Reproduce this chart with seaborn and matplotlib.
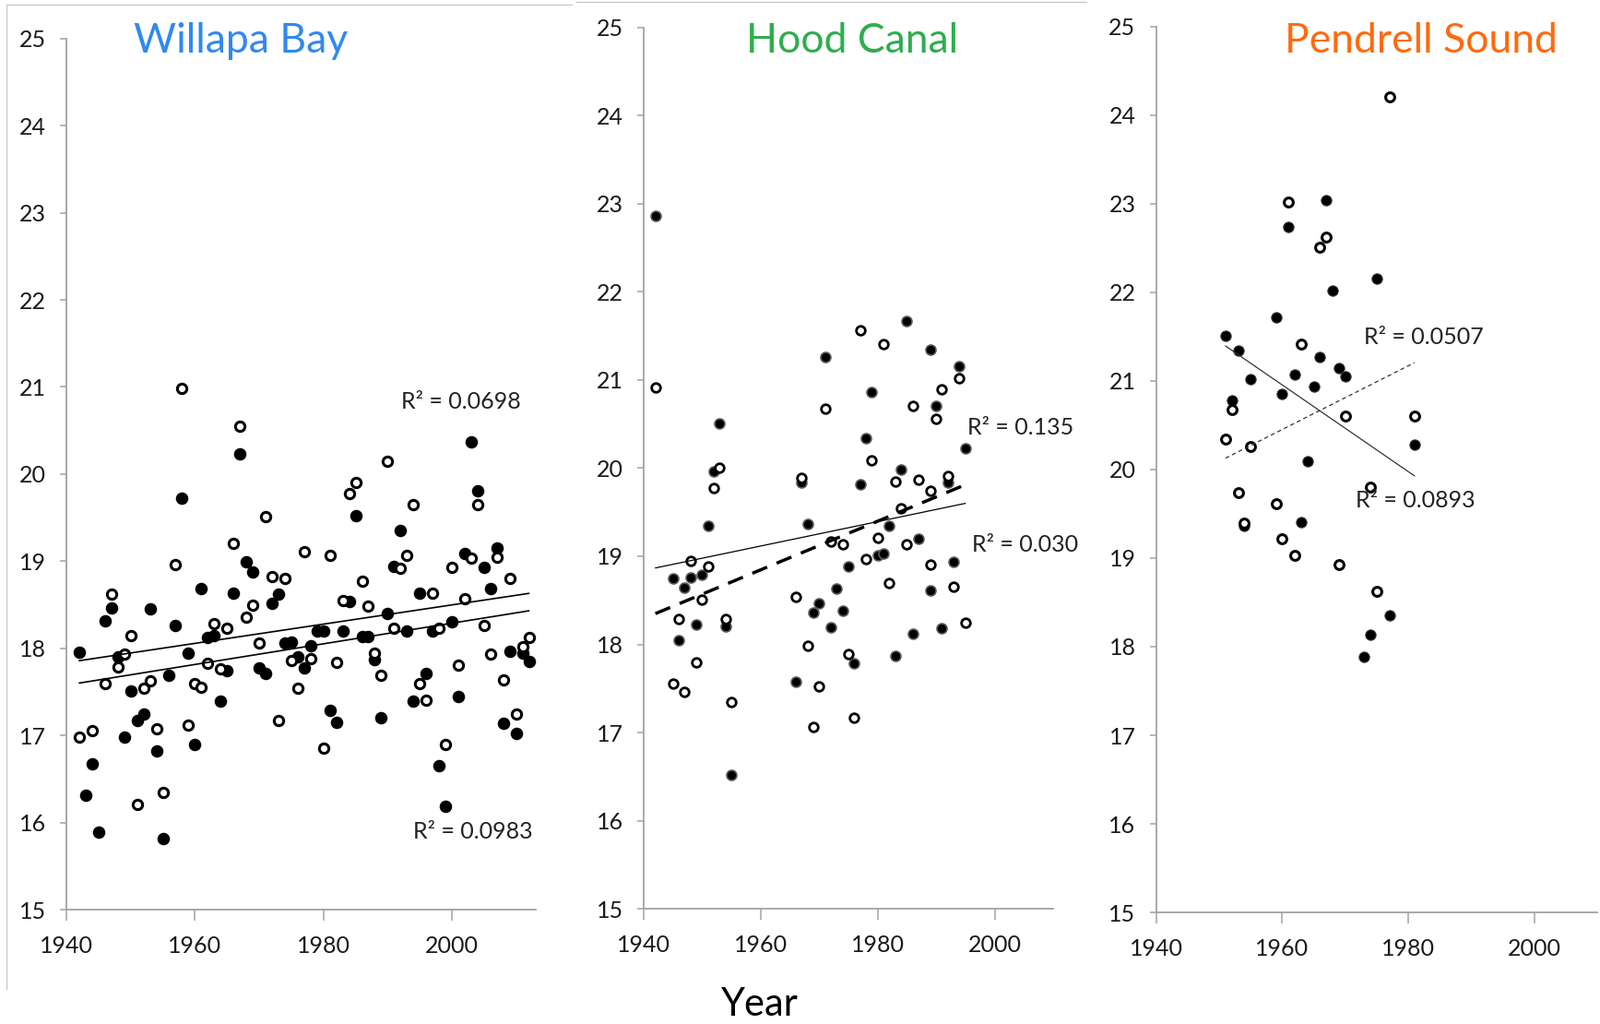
import numpy as np
import pandas as pd
import matplotlib
matplotlib.use("Agg")
import matplotlib.pyplot as plt
import seaborn as sns
from matplotlib.lines import Line2D

sns.set_theme(style="white")
plt.rcParams['font.family'] = ['Lato', 'DejaVu Sans']

# ---------------- data ----------------
titles = ["Willapa Bay", "Hood Canal", "Pendrell Sound"]
title_colors = ["#3189ee", "#2fad4e", "#ff6a0e"]
x_ticks = [1940, 1960, 1980, 2000]
y_ticks = list(range(15, 26))

# Willapa Bay
wb_filled_year = list(range(1942, 2013))
wb_filled_temp = [17.96, 16.31, 16.67, 15.89, 18.32, 18.46, 17.90, 16.98, 17.51, 17.17,
                  17.25, 18.45, 16.82, 15.82, 17.69, 18.26, 19.72, 17.94, 16.90, 18.69,
                  18.12, 18.15, 17.39, 17.74, 18.63, 20.23, 18.99, 18.88, 17.78, 17.71,
                  18.52, 18.62, 18.06, 18.07, 17.90, 17.78, 18.03, 18.20, 18.20, 17.29,
                  17.15, 18.20, 18.54, 19.52, 18.13, 18.13, 17.87, 17.20, 18.40, 18.94,
                  19.35, 18.20, 17.39, 18.63, 17.71, 18.20, 16.65, 16.19, 18.30, 17.45,
                  19.09, 20.37, 19.81, 18.93, 18.69, 19.15, 17.14, 17.97, 17.02, 17.94,
                  17.85]
wb_open_year = [1942, 1944, 1946, 1947, 1948, 1949, 1950, 1951, 1952, 1953, 1954, 1955,
                1957, 1958, 1959, 1960, 1961, 1962, 1963, 1964, 1965, 1966, 1967, 1968,
                1969, 1970, 1971, 1972, 1973, 1974, 1975, 1976, 1977, 1978, 1980, 1981,
                1982, 1983, 1984, 1985, 1986, 1987, 1988, 1989, 1990, 1991, 1992, 1993,
                1994, 1995, 1996, 1997, 1998, 1999, 2000, 2001, 2002, 2003, 2004, 2005,
                2006, 2007, 2008, 2009, 2010, 2011, 2012]
wb_open_temp = [16.98, 17.05, 17.60, 18.62, 17.79, 17.93, 18.15, 16.21, 17.54, 17.63, 17.08, 16.34,
                18.96, 20.98, 17.12, 17.60, 17.55, 17.83, 18.28, 17.76, 18.23, 19.20, 20.55, 18.36,
                18.50, 18.06, 19.51, 18.82, 17.17, 18.80, 17.86, 17.54, 19.11, 17.88, 16.85, 19.07,
                17.84, 18.55, 19.78, 19.90, 18.77, 18.48, 17.94, 17.69, 20.15, 18.23, 18.92, 19.07,
                19.65, 17.60, 17.40, 18.63, 18.23, 16.90, 18.93, 17.81, 18.57, 19.03, 19.65, 18.26,
                17.93, 19.05, 17.64, 18.80, 17.24, 18.02, 18.12]
wb_r2_labels = ["R² = 0.0698", "R² = 0.0983"]

# Hood Canal
hc_filled_year = [1942, 1945, 1946, 1947, 1948, 1949, 1950, 1951, 1952, 1953, 1954, 1955,
                  1966, 1967, 1968, 1969, 1970, 1971, 1972, 1973, 1974, 1975, 1976, 1977,
                  1978, 1979, 1980, 1981, 1982, 1983, 1984, 1985, 1986, 1987, 1989, 1989,
                  1990, 1991, 1992, 1993, 1994, 1995]
hc_filled_temp = [22.86, 18.75, 18.05, 18.64, 18.76, 18.22, 18.79, 19.35, 19.96, 20.51, 18.20, 16.52,
                  17.58, 19.84, 19.37, 18.36, 18.47, 21.26, 18.19, 18.63, 18.38, 18.89, 17.79, 19.82,
                  20.34, 20.86, 19.01, 19.03, 19.35, 17.87, 19.98, 21.67, 18.12, 19.20, 21.35, 18.61,
                  20.71, 18.18, 19.84, 18.94, 21.16, 20.23]
hc_open_year = [1942, 1945, 1946, 1947, 1948, 1949, 1950, 1951, 1952, 1953, 1954, 1955,
                1966, 1967, 1968, 1969, 1970, 1971, 1972, 1974, 1975, 1976, 1977, 1978,
                1979, 1980, 1981, 1982, 1983, 1984, 1985, 1986, 1987, 1989, 1989, 1990,
                1991, 1992, 1993, 1994, 1995]
hc_open_temp = [20.92, 17.55, 18.29, 17.46, 18.95, 17.80, 18.51, 18.88, 19.77, 20.00, 18.29, 17.35,
                18.54, 19.89, 17.98, 17.06, 17.52, 20.68, 19.17, 19.14, 17.89, 17.17, 21.57, 18.97,
                20.09, 19.21, 21.41, 18.70, 19.85, 19.54, 19.14, 20.71, 19.87, 19.74, 18.91, 20.56,
                20.89, 19.91, 18.65, 21.02, 18.25]
hc_r2_labels = ["R² = 0.135", "R² = 0.030"]

# Pendrell Sound
ps_filled_year = [1951, 1952, 1953, 1954, 1955, 1959, 1960, 1961, 1962, 1963, 1964, 1965,
                  1966, 1967, 1968, 1969, 1970, 1973, 1974, 1975, 1977, 1981]
ps_filled_temp = [21.51, 20.78, 21.34, 19.36, 21.02, 21.72, 20.85, 22.74, 21.07, 19.41, 20.09, 20.94,
                  21.27, 23.04, 22.02, 21.15, 21.05, 17.89, 18.14, 22.16, 18.35, 20.28]
ps_open_year = [1951, 1952, 1953, 1954, 1955, 1959, 1960, 1961, 1962, 1963, 1966, 1967,
                1969, 1970, 1974, 1975, 1977, 1981]
ps_open_temp = [20.34, 20.68, 19.74, 19.40, 20.26, 19.61, 19.22, 23.02, 19.03, 21.42, 22.51, 22.63,
                18.93, 20.60, 19.80, 18.62, 24.21, 20.60]
ps_r2_labels = ["R² = 0.0507", "R² = 0.0893"]

x_label = "Year"

# ---------------- figure ----------------
fig = plt.figure(figsize=(17.35, 11.10), dpi=100)
axis_gray = "#a3a3a3"


def style_axis(ax, xmax):
    ax.set_xlim(1940, xmax)
    ax.set_ylim(15, 25)
    ax.set_xticks(x_ticks)
    ax.set_yticks(y_ticks)
    ax.set_xticklabels([str(v) for v in x_ticks])
    ax.set_yticklabels([str(v) for v in y_ticks])
    for s in ["top", "right"]:
        ax.spines[s].set_visible(False)
    for s in ["left", "bottom"]:
        ax.spines[s].set_color(axis_gray)
        ax.spines[s].set_linewidth(1.3)
    ax.tick_params(axis="y", direction="out", length=5, width=1.1, color=axis_gray,
                   labelsize=18, pad=11, left=True, labelcolor="#1a1a1a")
    ax.tick_params(axis="x", direction="out", length=8.5, width=1.1, color=axis_gray,
                   labelsize=18, pad=12, bottom=True, labelcolor="#1a1a1a")
    ax.set_xlabel("")
    ax.set_ylabel("")
    ax.grid(False)
    ax.set_facecolor("none")


def draw_points(ax, yf, tf, yo, to, fs, os_, olw, fedge=None, flw=0):
    dff = pd.DataFrame({"year": yf, "temp": tf})
    dfo = pd.DataFrame({"year": yo, "temp": to})
    sns.scatterplot(data=dff, x="year", y="temp", ax=ax, color="black", s=fs,
                    edgecolor=fedge if fedge else "black", linewidth=flw, zorder=2)
    sns.scatterplot(data=dfo, x="year", y="temp", ax=ax, color="white", s=os_,
                    edgecolor="black", linewidth=olw, zorder=2.5)
    return dff, dfo


def draw_fit(ax, df, **kw):
    sns.regplot(data=df, x="year", y="temp", ax=ax, scatter=False, ci=None,
                line_kws=dict(zorder=3, **kw))


label_kw = dict(fontsize=18, va="center", ha="left", color="#222222")

# Panel 1: Willapa Bay
ax1 = fig.add_axes([0.0415, 0.1117, 0.2934, 0.8507])
dff, dfo = draw_points(ax1, wb_filled_year, wb_filled_temp, wb_open_year, wb_open_temp,
                       fs=95, os_=55, olw=2.2)
draw_fit(ax1, dff, color="black", lw=1.2)
draw_fit(ax1, dfo, color="black", lw=1.2)
ax1.text(1992.1, 20.83, wb_r2_labels[0], **label_kw)
ax1.text(1994.0, 15.89, wb_r2_labels[1], **label_kw)
style_axis(ax1, 2013.06)

# Panel 2: Hood Canal
ax2 = fig.add_axes([0.4023, 0.1126, 0.2559, 0.8604])
dff, dfo = draw_points(ax2, hc_filled_year, hc_filled_temp, hc_open_year, hc_open_temp,
                       fs=62, os_=48, olw=2.0, fedge="#5a5a5a", flw=1.2)
draw_fit(ax2, dff, color="black", lw=0.9)
draw_fit(ax2, dfo, color="black", lw=2.5, linestyle=(0, (5.0, 3.2)))
ax2.text(1995.3, 20.46, hc_r2_labels[0], **label_kw)
ax2.text(1996.1, 19.13, hc_r2_labels[1], **label_kw)
style_axis(ax2, 2010)

# Panel 3: Pendrell Sound
ax3 = fig.add_axes([0.7226, 0.1090, 0.2757, 0.8649])
dff, dfo = draw_points(ax3, ps_filled_year, ps_filled_temp, ps_open_year, ps_open_temp,
                       fs=66, os_=50, olw=2.2, fedge="#3a3a3a", flw=0.8)
draw_fit(ax3, dff, color="#333333", lw=0.9)
draw_fit(ax3, dfo, color="#333333", lw=0.9, linestyle=(0, (3.6, 2.7)))
ax3.text(1973.0, 21.49, ps_r2_labels[0], **label_kw)
ax3.text(1971.6, 19.65, ps_r2_labels[1], **label_kw)
style_axis(ax3, 2010)

# Titles
for t, c, xc in zip(titles, title_colors, [0.1504, 0.5326, 0.888]):
    fig.text(xc, 0.9486, t, color=c, fontsize=32, ha="center", va="baseline")

# Shared x label
fig.text(0.475, 0.008, x_label, fontsize=30, ha="center", va="baseline", color="black")

# light frame lines from the composed figure
frame = "#c8c8c8"
fig.add_artist(Line2D([6.5 / 1735, 6.5 / 1735], [1 - 5 / 1110, 1 - 1072 / 1110],
                      transform=fig.transFigure, color=frame, lw=1.0))
fig.add_artist(Line2D([6.5 / 1735, 620 / 1735], [1 - 5 / 1110, 1 - 5 / 1110],
                      transform=fig.transFigure, color=frame, lw=1.0))
fig.add_artist(Line2D([625 / 1735, 1178 / 1735], [1 - 1.5 / 1110, 1 - 1.5 / 1110],
                      transform=fig.transFigure, color=frame, lw=1.0))

fig.savefig("out.png", dpi=100, facecolor="white")
